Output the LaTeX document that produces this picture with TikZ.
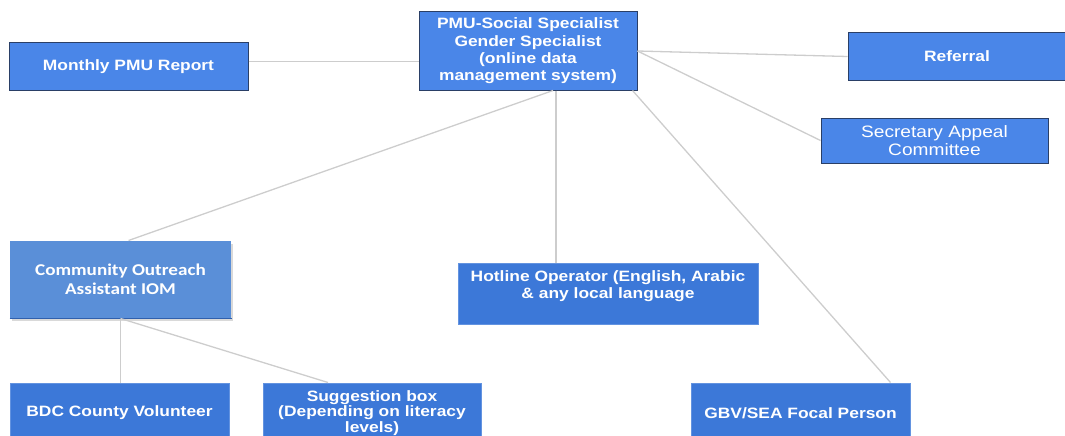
\documentclass[tikz,border=0pt]{standalone}
\usepackage{fontspec}
\setmainfont{Liberation Sans}[FakeStretch=1.16]
\newfontfamily\calfont{Carlito}[FakeStretch=1.16]
\usepackage{xcolor}
\definecolor{boxblue}{HTML}{4A86E8}
\definecolor{deepblue}{HTML}{3C78D8}
\definecolor{paleblue}{HTML}{5A8FD8}
\definecolor{boxline}{HTML}{2A3F66}
\definecolor{linkgrey}{HTML}{CDCDCD}
\usetikzlibrary{positioning,shadows}

\begin{document}
\begin{tikzpicture}[x=1pt,y=-1pt,
	box/.style={rectangle,fill=boxblue,draw=boxline,line width=1pt,text=white,align=center,inner sep=0pt,
		font=\bfseries\fontsize{15pt}{17.3pt}\selectfont},
	flatbox/.style={box,fill=deepblue,draw=deepblue!80!white},
	link/.style={draw=linkgrey,line width=1.3pt}]
	% fix the page
	\useasboundingbox (0,0) rectangle (1065,436);
	
	% top row
	\node[box,minimum width=239pt,minimum height=47pt] (monthly) at (128.5,66.5) {Monthly PMU Report};
	\node[box,minimum width=218pt,minimum height=78pt] (pmu) at (528,51) {PMU-Social Specialist\\Gender Specialist\\(online data\\management system)};
	\node[box,minimum width=218pt,minimum height=47pt] (referral) at (957,56.5) {Referral};
	\node[box,minimum width=227pt,minimum height=45pt,font=\mdseries\fontsize{16.5pt}{18.5pt}\selectfont] (appeal) at (934.5,140.5) {Secretary Appeal\\Committee};
	
	% middle row
	\node[box,fill=paleblue,draw=none,minimum width=221pt,minimum height=77pt,font=\calfont\bfseries\fontsize{16.5pt}{19.5pt}\selectfont,
		drop shadow={shadow xshift=1.5pt,shadow yshift=-2.5pt,opacity=.3}] (outreach) at (120.5,279.5) {Community Outreach\\Assistant IOM};
	\draw[line width=1.2pt,draw=deepblue!80!black] (outreach.south west) -- (outreach.south east);
	\node[flatbox,minimum width=300pt,minimum height=61pt] (hotline) at (608,293.5) {Hotline Operator (English, Arabic\\\& any local language\\\mbox{}};
	
	% bottom row
	\node[flatbox,minimum width=219pt,minimum height=60pt] (bdc) at (119.5,413) {BDC County Volunteer};
	\node[flatbox,minimum width=218pt,minimum height=60pt,font=\bfseries\fontsize{15pt}{15.7pt}\selectfont] (sugbox) at (372,413) {Suggestion box\\(Depending on literacy\\levels)};
	\node[flatbox,minimum width=219pt,minimum height=60pt] (gbv) at (800.5,413) {GBV/SEA Focal Person};
	
	%%%lines
	\draw[link] ([yshift=5pt]monthly.east) -- ([yshift=5pt]monthly.east -| pmu.west);
	\draw[link] (pmu.east) -- (referral.west);
	\draw[link] (pmu.east) -- (appeal.west);
	\draw[link] ([xshift=28pt]pmu.south) -- ([xshift=28pt]pmu.south |- hotline.north);
	\draw[link] ([xshift=25pt]pmu.south) -- ([xshift=8pt]outreach.north);
	\draw[link] ([xshift=-5pt]pmu.south east) -- ([xshift=-20pt]gbv.north east);
	\draw[link] (outreach.south) -- (bdc.north -| outreach.south);
	\draw[link] (outreach.south) -- ([xshift=-44pt]sugbox.north);
\end{tikzpicture}
\end{document}
